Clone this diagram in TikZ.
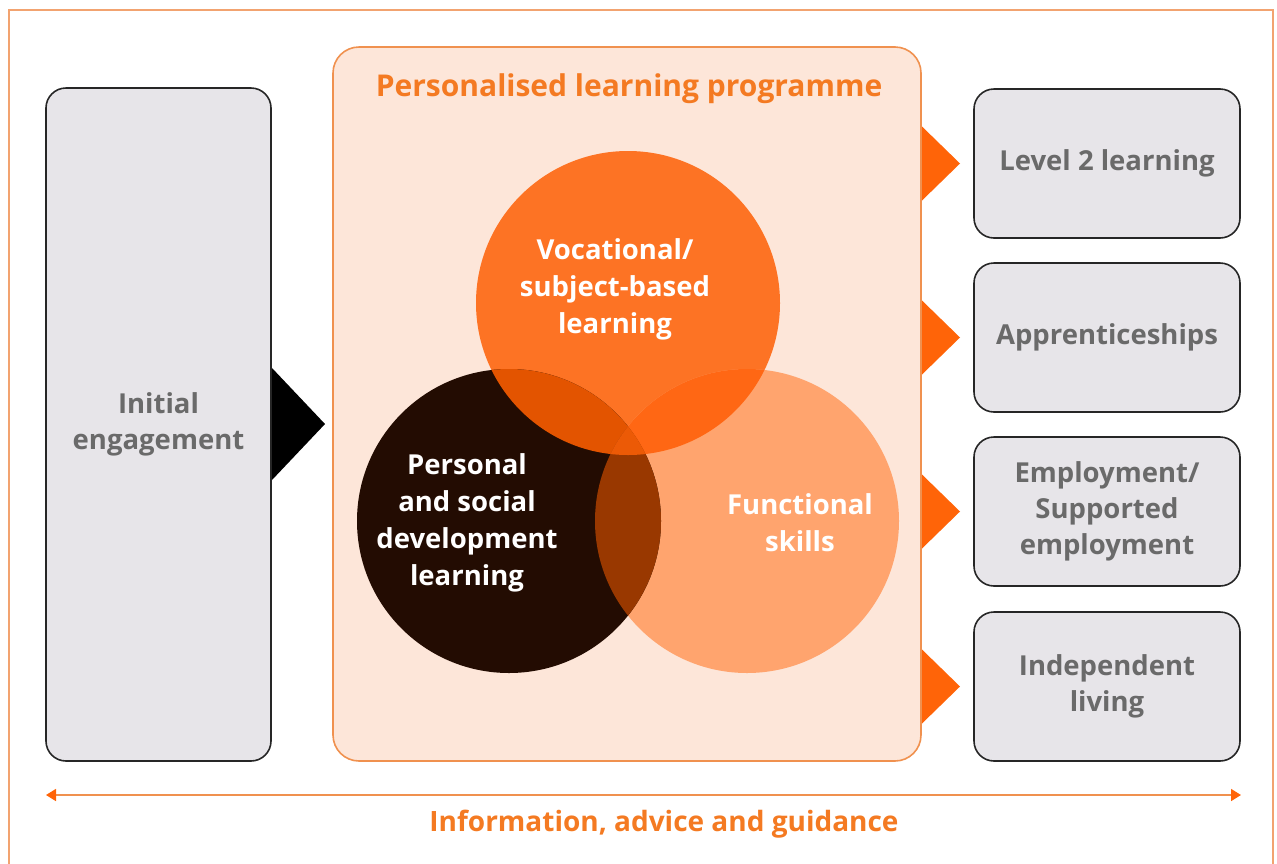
\documentclass[tikz,border=0pt]{standalone}
\usepackage{fontspec}
\usetikzlibrary{arrows.meta}
\setmainfont{Open Sans}
\definecolor{framec}{HTML}{F2A370}
\definecolor{plpfill}{HTML}{FDE6D9}
\definecolor{plpline}{HTML}{F0914F}
\definecolor{orangetxt}{HTML}{F47A22}
\definecolor{boxfill}{HTML}{E7E5E9}
\definecolor{boxtxt}{HTML}{6A6A6A}
\definecolor{tri}{HTML}{FF6408}
\definecolor{ctop}{HTML}{FD7324}
\definecolor{cright}{HTML}{FFA46E}
\definecolor{cleft}{HTML}{230C02}
\definecolor{ctl}{HTML}{E35400}
\definecolor{ctr}{HTML}{FF6714}
\definecolor{clr}{HTML}{993800}
\definecolor{call}{HTML}{EC5A06}
\begin{document}
\begin{tikzpicture}[x=1pt,y=-1pt,
  graybox/.style={draw=black!85, line width=1.6pt, fill=boxfill, rounded corners=20pt,
    text=boxtxt, font=\bfseries\fontsize{27.5}{36}\selectfont, align=center, inner sep=0pt},
  circtxt/.style={text=white, font=\bfseries\fontsize{27.5}{37}\selectfont, align=center},
  outtri/.style={fill=tri}]
\useasboundingbox (0,0) rectangle (1277,863);
% outer frame
\draw[framec, line width=1.6pt] (9,10) rectangle (1273,880);

% left column
\node[graybox, minimum width=225, minimum height=673] (init) at (158.5,424.5) {Initial\\engagement};
\fill[black] (272,368) -- (325,424) -- (272,480) -- cycle;

% programme panel
\node[draw=plpline, line width=1.6pt, fill=plpfill, rounded corners=26pt,
  minimum width=588, minimum height=714, inner sep=0pt] (plp) at (627,404) {};
\node[text=orangetxt, font=\bfseries\fontsize{30}{34}\selectfont] (plptitle) at (629,89) {Personalised learning programme};

% three overlapping circles
\fill[ctop] (628,303) circle (152);
\fill[cright] (747,521) circle (152);
\fill[cleft] (509,521) circle (152);
\begin{scope}
  \clip (628,303) circle (152);
  \fill[ctl] (509,521) circle (152);
  \fill[ctr] (747,521) circle (152);
\end{scope}
\begin{scope}
  \clip (509,521) circle (152);
  \fill[clr] (747,521) circle (152);
  \clip (747,521) circle (152);
  \fill[call] (628,303) circle (152);
\end{scope}
\node[circtxt] (voc) at (615,289) {Vocational/\\subject-based\\learning};
\node[circtxt] (pers) at (467,523) {Personal\\and social\\development\\learning};
\node[circtxt] (func) at (800,523) {Functional\\skills};

% outcomes
\node[graybox, minimum width=266, minimum height=149] (lvl) at (1107,163.5) {Level 2 learning};
\node[graybox, minimum width=266, minimum height=149] (app) at (1107,337.5) {Apprenticeships};
\node[graybox, minimum width=266, minimum height=149] (emp) at (1107,511.5) {Employment/\\Supported\\employment};
\node[graybox, minimum width=266, minimum height=149] (ind) at (1107,686.5) {Independent\\living};
\foreach \yy in {163.5,337.5,511.5,686.5}{
  \fill[outtri] (922,\yy-37) -- (960,\yy) -- (922,\yy+37) -- cycle;
}

% guidance arrow along the bottom
\coordinate (gl) at (46,795);
\coordinate (gr) at (1241,795);
\draw[draw=plpline, line width=1.6pt, {Triangle[length=10pt,width=12pt,fill=tri,color=tri]}-{Triangle[length=10pt,width=12pt,fill=tri,color=tri]}] (gl) -- (gr);
\node[text=orangetxt, font=\bfseries\fontsize{28}{30}\selectfont] (guide) at (664,824) {Information, advice and guidance};
\end{tikzpicture}
\end{document}
